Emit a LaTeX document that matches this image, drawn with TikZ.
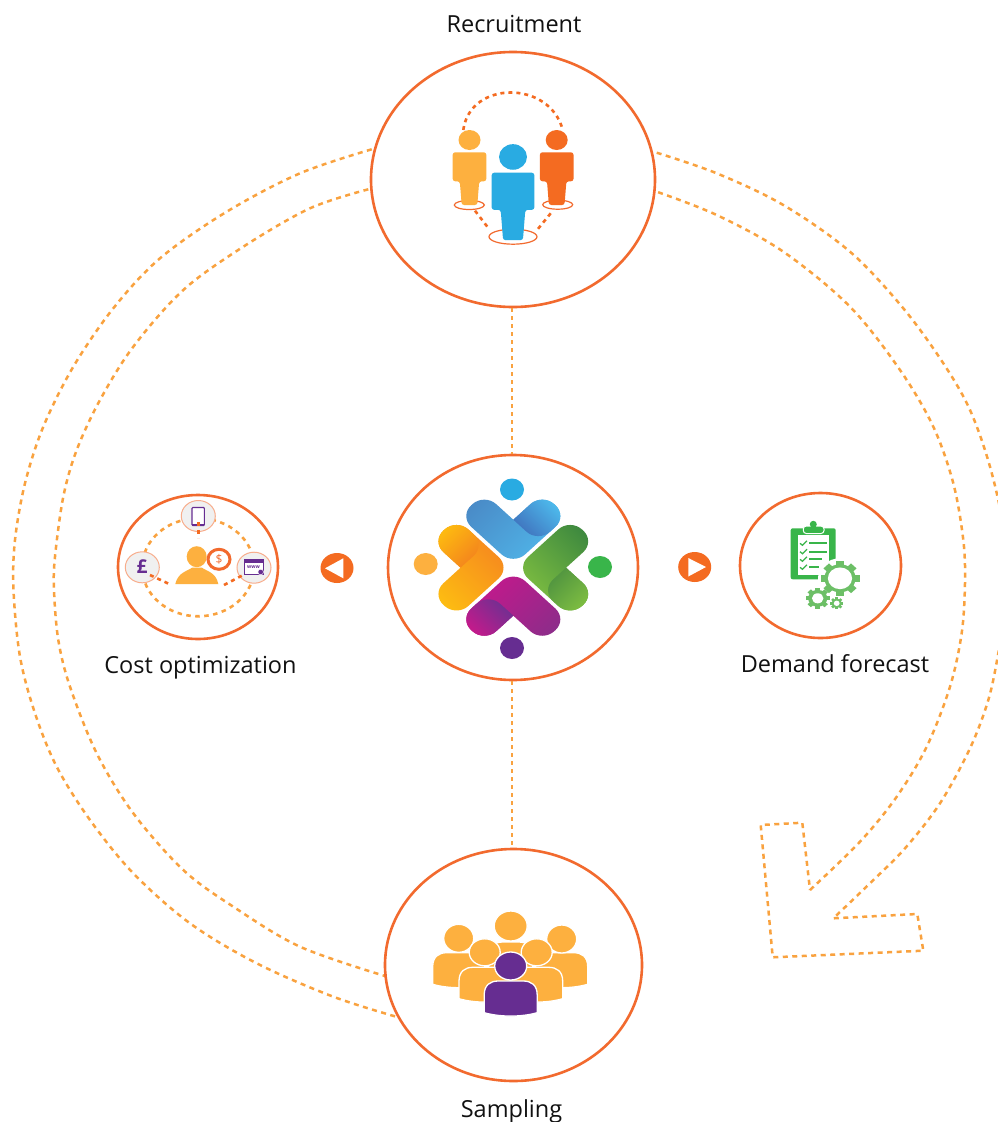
\documentclass[tikz,border=0pt]{standalone}
\usepackage{fontspec}
\setmainfont{Open Sans}
\usetikzlibrary{shapes.geometric}
\definecolor{ringor}{HTML}{F26A2E}
\definecolor{dashor}{HTML}{F9A23F}
\definecolor{yel}{HTML}{FDB03F}
\definecolor{sky}{HTML}{29ABE2}
\definecolor{deep}{HTML}{F46B21}
\definecolor{purp}{HTML}{662D91}
\definecolor{grn}{HTML}{39B54A}
\definecolor{lgrn}{HTML}{6CBF66}
\definecolor{txt}{HTML}{111111}
\definecolor{bA}{HTML}{4A8CC8}\definecolor{bB}{HTML}{50B7EA}\definecolor{bC}{HTML}{3F6FBB}\definecolor{bD}{HTML}{4FC3F2}
\definecolor{gA}{HTML}{84C341}\definecolor{gB}{HTML}{3F8A3F}\definecolor{gC}{HTML}{4D9140}
\definecolor{mA}{HTML}{C8178C}\definecolor{mB}{HTML}{8E2C8A}\definecolor{mC}{HTML}{D0178A}\definecolor{mD}{HTML}{6A3192}
\definecolor{oA}{HTML}{FDBB12}\definecolor{oB}{HTML}{F58220}\definecolor{oC}{HTML}{FFC20E}\definecolor{oD}{HTML}{F3801E}
\tikzset{
  ring/.style={ellipse,draw=ringor,line width=2.6pt,inner sep=0pt,fill=white},
  bigdash/.style={draw=dashor,line width=2.5pt,dash pattern=on 5pt off 4.5pt},
  icondash/.style={draw=deep,line width=2.6pt,dash pattern=on 4pt off 4pt},
  costdash/.style={draw=dashor,line width=2.6pt,dash pattern=on 4.5pt off 4.5pt},
  link/.style={draw=dashor,line width=2.6pt,dash pattern=on 4pt off 4pt},
  label/.style={font=\fontsize{23.5}{26}\selectfont,text=txt,inner sep=0pt},
  dot/.style={ellipse,inner sep=0pt,draw=none},
  mini/.style={ellipse,draw=ringor!55,fill=black!6,line width=1pt,inner sep=0pt,minimum width=34pt,minimum height=31pt},
  ground/.style={draw=ringor,line width=1.2pt,fill=white},
  playbtn/.style={ellipse,fill=deep,inner sep=0pt,minimum width=33pt,minimum height=30pt},
}
\newcommand{\chevronpiece}[3]{%
  \begin{scope}[shift={(513.3,567.7)},xscale=1.1,rotate=#1]
    \shade[#2,rounded corners=16pt] (0,-48) -- (-26.35,-74.35) -- (-49.05,-51.65) -- (0,-2.6)
       -- (49.05,-51.65) -- (26.35,-74.35) -- (0,-48);
    \shade[#3,rounded corners=16pt] (0,-48) -- (26.35,-74.35) -- (49.05,-51.65) -- (22.7,-25.3) -- (0,-48);
  \end{scope}}
\newcommand{\standfig}[5]{%
  \begin{scope}[shift={(#2,#3)},xscale=#4,yscale=#5]
    \fill[#1] (0,-12.3) ellipse (11 and 10);
    \fill[#1,rounded corners=2.5pt] (-16.8,0) -- (16.8,0) -- (16.8,29) -- (9.7,29) -- (7.8,52.7)
       -- (-7.8,52.7) -- (-9.7,29) -- (-16.8,29) -- cycle;
  \end{scope}}
\newcommand{\bustfig}[8]{%
  \begin{scope}[shift={(#1,#2)}]
    \filldraw[fill=#8,draw=white,line width=1.3pt] (-#3,#4-4) -- (-#3,14) .. controls (-#3,4) and (-#3+6,0) .. (-#3+14,0)
      -- (#3-14,0) .. controls (#3-6,0) and (#3,4) .. (#3,14) -- (#3,#4-4)
      .. controls (#3*.4,#4+.5) and (-#3*.4,#4+.5) .. (-#3,#4-4) -- cycle;
    \filldraw[fill=#8,draw=white,line width=1.3pt] (0,#5) ellipse (#6 and #7);
  \end{scope}}
\newcommand{\gearicon}[6]{%
  \begin{scope}[shift={(#1,#2)},xscale=#3,yscale=#4]
    \fill[#6] (0,0) circle (.8);
    \foreach \ang in {0,45,...,315} {
      \fill[#6,rotate=\ang] (-.2,.6) rectangle (.2,1);
    }
    \fill[white] (0,0) circle (#5);
  \end{scope}}
\begin{document}
\begin{tikzpicture}[x=1pt,y=-1pt]
\clip (0,0) rectangle (998,1122);
\fill[white] (0,0) rectangle (998,1122);

% big ring arrow
\draw[bigdash,line join=miter] plot[smooth,tension=.55] coordinates {(656.7,152.7) (716.7,173.3) (783.3,205) (850,251.7) (903.3,308.3) (943.3,363.3) (970,410) (990,466.7) (1004,530) (1009,590) (998,655) (988.3,700) (970,748.3) (940,803.3) (905,848.3) (870,883.3) (833.3,918.3)}
  -- (917.3,914) -- (923.3,950.7) -- (772.7,957.3) -- (760.7,825) -- (802.3,822.7) -- (810,890);
\draw[bigdash] plot[smooth,tension=.55] coordinates {(810,890) (860,841.7) (896.7,796.7) (926.7,746.7) (950,686.7) (961.7,633) (965,583) (963.3,540) (953.3,483.3) (933.3,426.7) (900,370) (850,306.7) (783.3,251.7) (716.7,215) (656.7,191.7)};
\draw[bigdash] plot[smooth,tension=.55] coordinates {(371.7,149.3) (300,173.3) (226.7,211.7) (160,258.3) (113.3,308.3) (73.3,366.7) (43.3,426.7) (25,483.3) (15,540) (13.5,590) (20,656.7) (35,713.3) (56.7,766.7) (90,820) (133.3,873.3) (190,923.3) (256.7,963.3) (333.3,996.7) (398.3,1017.3)};
\draw[bigdash] plot[smooth,tension=.55] coordinates {(368.3,189.3) (310,208.3) (243.3,246.7) (183.3,290) (133.3,346.7) (100,400) (76.7,450) (63.3,496.7) (55,556.7) (54,590) (58.3,640) (70,686.7) (96.7,753.3) (133.3,813.3) (183.3,870) (233.3,906.7) (300,946.7) (385,976)};

% main rings
\node[ring,minimum width=284pt,minimum height=255pt] (recruit) at (513,179.5) {};
\node[ring,minimum width=250pt,minimum height=225pt] (hub) at (513,567.5) {};
\node[ring,minimum width=160pt,minimum height=144pt] (cost) at (198,567) {};
\node[ring,minimum width=161pt,minimum height=145pt] (demand) at (820.5,565.5) {};
\node[ring,minimum width=257pt,minimum height=232pt] (sampling) at (513.5,965) {};
\draw[link] (recruit.south -| 512,0) -- (hub.north -| 512,0);
\draw[link] (hub.south -| 512,0) -- (sampling.north -| 512,0);

% labels
\node[label] (lrecruit) at (514,24) {Recruitment};
\node[label] (lcost) at (200.5,668) {Cost optimization};
\node[label] (ldemand) at (835,664) {Demand forecast};
\node[label] (lsampling) at (511.5,1111) {Sampling};

% arrow buttons
\node[playbtn] (btnl) at (337,568) {};
\fill[white] (325,568.3) -- (343.3,558.3) -- (343.3,578.3) -- cycle;
\node[playbtn] (btnr) at (694.7,567) {};
\fill[white] (706,567) -- (688.3,558) -- (688.3,576.5) -- cycle;

% recruitment icon
\draw[icondash] (463.3,130) .. controls (470,80) and (550,80) .. (562.7,130);
\draw[icondash] (475,210.7) -- (489.3,229.3);
\draw[icondash] (550.7,213.3) -- (535.7,231.7);
\draw[ground] (469.3,205) ellipse (15 and 4.5);
\draw[ground] (557.7,204.7) ellipse (15 and 4.5);
\draw[ground] (513,236.7) ellipse (24 and 7.5);
\standfig{yel}{469.5}{152.3}{1}{1}
\standfig{deep}{556.7}{152.3}{1}{1}
\standfig{sky}{513}{172.7}{1.27}{1.28}

% hub logo
\chevronpiece{0}{left color=bA,right color=bB,shading angle=45}{left color=bC,middle color=bD,right color=bD,shading angle=135}
\chevronpiece{-90}{left color=gB,right color=gA,shading angle=-45}{left color=gC,right color=gA,shading angle=45}
\chevronpiece{-180}{left color=mA,right color=mB,shading angle=45}{left color=mD,middle color=mC,right color=mC,shading angle=-45}
\chevronpiece{-270}{left color=oB,right color=oA,shading angle=-45}{left color=oC,middle color=oC,right color=oD,shading angle=45}
\node[dot,fill=sky,minimum width=24pt,minimum height=22pt] (dottop) at (512,489.5) {};
\node[dot,fill=yel,minimum width=24pt,minimum height=22pt] (dotleft) at (425.7,564) {};
\node[dot,fill=grn,minimum width=24pt,minimum height=22pt] (dotright) at (600,567) {};
\node[dot,fill=purp,minimum width=24pt,minimum height=22pt] (dotbottom) at (512,648) {};

% cost icon
\draw[costdash] (198.2,567.3) ellipse (56 and 49);
\node[mini] (mtop) at (198.3,516) {};
\node[mini] (mleft) at (142.3,567.3) {};
\node[mini] (mright) at (254,567.7) {};
\draw[draw=purp,line width=1.1pt,fill=white,rounded corners=.8pt] (192,507.5) rectangle (204.3,525.5);
\draw[purp,line width=1.6pt] (192,525.2) -- (204.3,525.2);
\draw[icondash] (198.7,522) -- (198.7,538);
\draw[icondash] (150,575) -- (169.3,584);
\draw[icondash] (224,585) -- (245,574);
\node[text=purp,font=\fontsize{19}{19}\selectfont\bfseries,inner sep=0pt] (pound) at (142,566.5) {£};
\draw[purp,line width=1.1pt,fill=white] (244.5,559.5) rectangle (263.3,574.5);
\fill[purp] (244.5,559.5) rectangle (263.3,563);
\node[text=purp,font=\fontsize{5}{5}\selectfont\bfseries,inner sep=0pt] (www) at (253.5,567) {www};
\filldraw[fill=purp,draw=white,line width=.5pt] (260.7,572) circle (2.8);
\fill[yel] (196.7,556.7) ellipse (10 and 10.5);
\fill[yel] (175.3,584) .. controls (178,572) and (188,571) .. (192,567.7) -- (202,567.7) .. controls (206,571) and (216,572) .. (218.3,584) -- cycle;
\node[ellipse,draw=ringor,line width=3pt,fill=white,inner sep=0pt,minimum width=22pt,minimum height=20pt,text=ringor,font=\fontsize{12}{12}\selectfont] (coin) at (219,559.3) {\$};

% demand icon
\fill[grn,rounded corners=2pt] (790.7,528.3) rectangle (835.7,579.3);
\fill[white] (798.3,535) rectangle (829.3,575);
\filldraw[fill=grn,draw=white,line width=1pt,rounded corners=3pt] (803.3,526) -- (824,526) -- (824,533.5) -- (803.3,533.5) -- cycle;
\fill[grn] (813.3,524.3) circle (3.5);
\foreach \yy/\xe in {543.3/826.7,551.7/826.7,559.3/821.7,567.3/819.3} {
  \draw[grn,line width=1.3pt] (800,\yy) -- (802.5,\yy+2) -- (807,\yy-2.5);
  \draw[grn,line width=1.8pt] (809.3,\yy) -- (\xe,\yy);
}
\fill[white] (840,578.3) ellipse (22 and 20);
\gearicon{840}{578.3}{19.5}{17.5}{.62}{lgrn}
\gearicon{817.7}{598.3}{12}{10.5}{.48}{lgrn}
\gearicon{836.7}{603.3}{6.5}{6}{.45}{lgrn}

% sampling icon
\bustfig{458.7}{952.7}{26}{35.6}{-14.4}{15}{14}{yel}
\bustfig{561.7}{952.7}{26}{35.6}{-13.7}{15}{14}{yel}
\bustfig{510.7}{942}{22}{30}{-16}{16.5}{15}{yel}
\bustfig{484.7}{967.3}{25.7}{35.4}{-15}{15.5}{13.5}{yel}
\bustfig{536.7}{967.3}{26}{35.4}{-15}{15.5}{13.5}{yel}
\bustfig{510.7}{981}{26.5}{35.7}{-15}{16}{14}{purp}
\end{tikzpicture}
\end{document}
